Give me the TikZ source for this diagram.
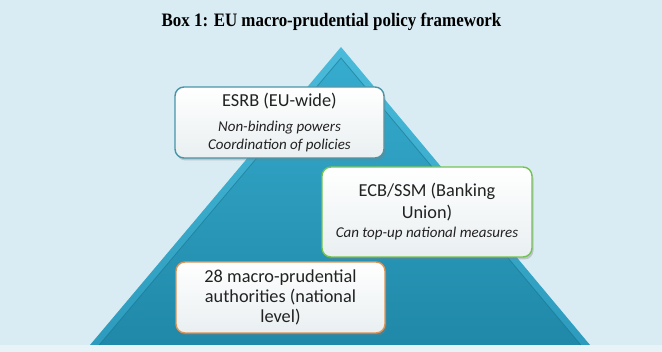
\documentclass[tikz,border=0pt]{standalone}
\usepackage{fontspec}
\usepackage{graphicx}
\setmainfont{Carlito}
\newfontfamily\titlefont{Liberation Serif}
\usetikzlibrary{shadows}

\definecolor{bgblue}{HTML}{DAECF3}
\definecolor{bgstrip}{HTML}{E8F3F7}
\definecolor{bandtop}{HTML}{4ABBDA}
\definecolor{bandbot}{HTML}{2C9BBD}
\definecolor{tritop}{HTML}{36ACCE}
\definecolor{tribot}{HTML}{2088A8}
\definecolor{triline}{HTML}{1A7590}
\definecolor{esrbedge}{HTML}{4894A8}
\definecolor{ecbedge}{HTML}{74C254}
\definecolor{natedge}{HTML}{D9955A}
\definecolor{boxbot}{HTML}{E9EFF1}
\definecolor{txt}{HTML}{222222}

\tikzset{
  tier/.style={rounded corners=9pt, line width=1.4pt, top color=white,
    bottom color=boxbot, text=txt, align=center, inner sep=0pt,
    font=\fontsize{18.3}{20}\selectfont,
    drop shadow={opacity=0.35, shadow xshift=1.5pt, shadow yshift=-2.5pt}},
}
\newcommand{\sub}[1]{{\fontsize{15}{20}\selectfont\itshape #1}}

\begin{document}
\begin{tikzpicture}[x=1pt,y=-1pt]
  \useasboundingbox (0,0) rectangle (662,352);
  \fill[bgblue] (0,0) rectangle (662,352);
  \fill[bgstrip] (0,345) rectangle (662,352);

  % title
  \node[anchor=base, text=black] (title) at (331.5,26.7)
    {\scalebox{0.89}[1]{\titlefont\bfseries\fontsize{19}{22}\selectfont Box 1: EU macro-prudential policy framework}};

  % pyramid: outer bevel band and inner face
  \coordinate (apex) at (341,47);
  \coordinate (bl) at (90,345);
  \coordinate (br) at (590,345);
  \coordinate (iapex) at (341,58);
  \coordinate (ibl) at (99.2,345);
  \coordinate (ibr) at (580.8,345);
  \shade[top color=bandtop, bottom color=bandbot] (apex) -- (bl) -- (br) -- cycle;
  \shade[top color=tritop, bottom color=tribot] (iapex) -- (ibl) -- (ibr) -- cycle;
  \draw[triline, line width=0.8pt, opacity=0.6] (ibl) -- (iapex) -- (ibr);

  % tiers
  \node[tier, draw=esrbedge, minimum width=209pt, minimum height=71pt] (esrb) at (279.5,122.5)
    {ESRB (EU-wide)\\[5pt]
     \sub{Non-binding powers}\\[-2pt]
     \sub{Coordination of policies}};
  \node[tier, draw=ecbedge, minimum width=210pt, minimum height=90pt] (ecb) at (427,212)
    {ECB/SSM (Banking\\[2pt]
     Union)\\[-1pt]
     \sub{Can top-up national measures}};
  \node[tier, draw=natedge, minimum width=209pt, minimum height=71pt] (nat) at (280.5,297.5)
    {28 macro-prudential\\
     authorities (national\\
     level)};
\end{tikzpicture}
\end{document}
